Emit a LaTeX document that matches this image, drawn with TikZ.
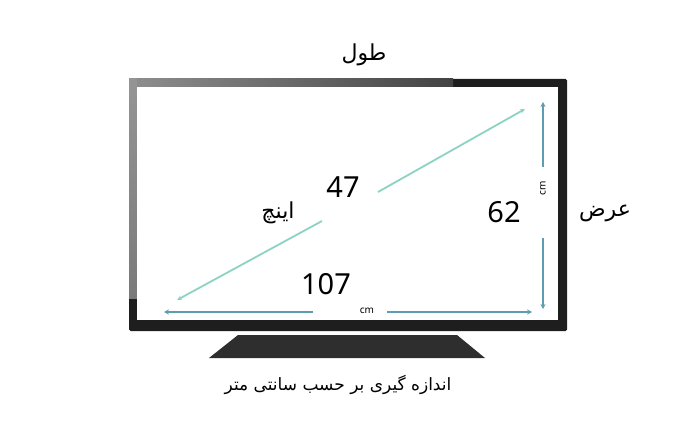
\documentclass[tikz,border=0pt]{standalone}
\usepackage{fontspec}
\setmainfont{Noto Sans}
\newfontfamily\arabicfont[Script=Arabic]{DejaVu Sans}
\TeXXeTstate=1
\usetikzlibrary{arrows.meta}
\definecolor{framedark}{HTML}{1E1E1E}
\definecolor{framegray}{HTML}{7A7A7A}
\definecolor{standdark}{HTML}{2E2E2E}
\definecolor{diagteal}{HTML}{8CD3C3}
\definecolor{sideblue}{HTML}{5E9CB0}
\tikzset{
  fatext/.style={font=\arabicfont\fontsize{22}{26}\selectfont, inner sep=0pt},
  captext/.style={font=\arabicfont\fontsize{17}{20}\selectfont, inner sep=0pt},
  numtext/.style={font=\fontsize{29}{34}\selectfont, inner sep=0pt},
  cmtext/.style={font=\fontsize{10}{11}\selectfont, inner sep=0pt},
  diagline/.style={draw=diagteal, line width=1.8pt, -{Stealth[length=5pt,width=4.5pt]}},
  sideline/.style={draw=sideblue, line width=2.2pt, -{Stealth[length=5pt,width=5pt]}},
}
\begin{document}
\begin{tikzpicture}[x=1pt,y=-1pt]
  \useasboundingbox (0,0) rectangle (700,430);
  % tv frame and stand
  \fill[framedark, rounded corners=1.5pt] (129,79) rectangle (567,331);
  \shade[left color=framegray!85, right color=framegray!55!black] (129,79) rectangle (453,87);
  \shade[top color=framegray!80, bottom color=framegray] (129,79) rectangle (137,298);
  \fill[white] (137,87) rectangle (558,320);
  \fill[standdark] (238,335) -- (457,335) -- (485,358) -- (209,358) -- cycle;
  % labels
  \node[fatext] (tool) at (364,55) {\beginR طول\endR};
  \node[fatext] (arz) at (605,213) {\beginR عرض\endR};
  \node[fatext] (inch) at (278,213) {\beginR اینچ\endR};
  \node[numtext] (n47) at (343,187) {47};
  \node[numtext] (n62) at (504,212) {62};
  \node[numtext] (n107) at (326,284) {107};
  \node[cmtext] (hcm) at (367,311) {cm};
  \node[cmtext, rotate=90] (vcm) at (543,188) {cm};
  \node[captext] (caption) at (338,385) {\beginR اندازه گیری بر حسب سانتی متر\endR};
  % measure lines
  \coordinate (dA) at (177,300);
  \coordinate (dB) at (525,109);
  \coordinate (d1) at (322,221);
  \coordinate (d2) at (378,192);
  \coordinate (vTop) at (543,102);
  \coordinate (v1) at (543,167);
  \coordinate (v2) at (543,238);
  \coordinate (vBot) at (543,309);
  \coordinate (hLeft) at (164,312);
  \coordinate (h1) at (313,312);
  \coordinate (h2) at (387,312);
  \coordinate (hRight) at (532,312);
  \draw[diagline] (d1) -- (dA);
  \draw[diagline] (d2) -- (dB);
  \draw[sideline] (v1) -- (vTop);
  \draw[sideline] (v2) -- (vBot);
  \draw[sideline] (h1) -- (hLeft);
  \draw[sideline] (h2) -- (hRight);
\end{tikzpicture}
\end{document}
